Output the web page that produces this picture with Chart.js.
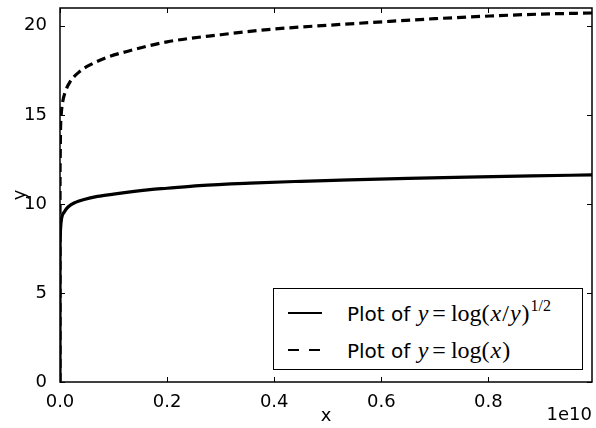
<!DOCTYPE html>
<html>
<head>
  <meta charset="UTF-8">
  <title>Plot of log curves</title>
  <script src="https://cdn.jsdelivr.net/npm/chart.js"></script>
  <style>
    body {
      margin: 0;
      background: #fff;
    }
    #wrap {
      position: relative;
      width: 596px;
      height: 428px;
    }
    #legend {
      position: absolute;
      left: 273px;
      top: 288px;
      width: 308px;
      height: 80px;
      border: 1px solid #000;
      background: #fff;
      font-family: "DejaVu Sans", sans-serif;
      font-size: 20px;
      color: #000;
    }
    .row {
      position: absolute;
      left: 0;
      height: 30px;
      line-height: 30px;
      white-space: nowrap;
    }
    .sample {
      position: absolute;
      left: 14px;
      top: 14px;
      width: 34px;
      border-top: 2px solid #000;
    }
    .sample.dash {
      border-top-style: none;
      height: 2px;
      background: repeating-linear-gradient(90deg, #000 0 11px, transparent 11px 21px);
    }
    .txt {
      position: absolute;
      left: 73px;
    }
    .m {
      font-family: "Liberation Serif", "DejaVu Serif", serif;
      font-size: 24px;
    }
    .m i { margin: 0 1px; }
    .m .eq { margin: 0 5px 0 3px; }
    .m sup { font-size: 16px; vertical-align: 10px; line-height: 0; margin-left: 1px; }
  </style>
</head>
<body>
  <div id="wrap">
    <canvas id="chart" width="596" height="428"></canvas>
    <div id="legend">
      <div class="row" style="top:9px"><div class="sample"></div><span class="txt">Plot of <span class="m"><i>y</i><span class="eq">=</span>log(<i>x</i>/<i>y</i>)<sup>1/2</sup></span></span></div>
      <div class="row" style="top:46px"><div class="sample dash"></div><span class="txt">Plot of <span class="m"><i>y</i><span class="eq">=</span>log(<i>x</i>)</span></span></div>
    </div>
  </div>

  <script>
    // x values in units of 1e10
    const solidX = [0, 0.00005, 0.0005, 0.001, 0.003, 0.008, 0.0155, 0.03, 0.045, 0.07, 0.1, 0.168, 0.2, 0.26, 0.355, 0.45, 0.54, 0.65, 0.76, 0.88, 0.9935];
    const solidY = [0, 6.8, 8.2, 8.6, 9.19, 9.55, 9.84, 10.1, 10.25, 10.42, 10.55, 10.8, 10.88, 11.03, 11.17, 11.27, 11.35, 11.43, 11.5, 11.57, 11.63];

    const dashX = [0, 0.00002, 0.0002, 0.001, 0.002, 0.0043, 0.01, 0.0187, 0.0374, 0.059, 0.09, 0.13, 0.2, 0.3, 0.4, 0.5, 0.616, 0.7, 0.803, 0.9, 0.9935];
    const dashY = [0, 9.5, 12.2, 14.2, 14.9, 15.6, 16.3, 16.85, 17.45, 17.85, 18.25, 18.6, 19.1, 19.5, 19.82, 20.03, 20.25, 20.4, 20.55, 20.66, 20.72];

    const xTicks = [0, 0.2, 0.4, 0.6, 0.8];
    const yTicks = [0, 5, 10, 15, 20];

    const pts = (xs, ys) => xs.map((x, i) => ({ x: x, y: ys[i] }));

    const frame = {
      id: 'frame',
      afterDraw(chart) {
        const c = chart.ctx, a = chart.chartArea;
        const xs = chart.scales.x, ys = chart.scales.y;
        c.save();
        c.strokeStyle = '#000';
        c.lineWidth = 1;
        c.beginPath();
        xTicks.forEach(v => {
          const p = Math.round(xs.getPixelForValue(v)) + 0.5;
          c.moveTo(p, a.bottom); c.lineTo(p, a.bottom - 5);
          c.moveTo(p, a.top); c.lineTo(p, a.top + 5);
        });
        yTicks.forEach(v => {
          const p = Math.round(ys.getPixelForValue(v)) + 0.5;
          c.moveTo(a.left, p); c.lineTo(a.left + 5, p);
          c.moveTo(a.right, p); c.lineTo(a.right - 5, p);
        });
        c.stroke();
        c.lineWidth = 1.5;
        c.strokeRect(a.left, a.top, a.right - a.left, a.bottom - a.top);
        c.fillStyle = '#000';
        c.font = '18px "DejaVu Sans"';
        c.textAlign = 'right';
        c.textBaseline = 'alphabetic';
        c.fillText('1e10', a.right, 420);
        c.restore();
      }
    };

    new Chart(document.getElementById('chart'), {
      type: 'line',
      data: {
        datasets: [
          {
            label: 'Plot of y=log(x/y)^(1/2)',
            data: pts(solidX, solidY),
            borderColor: '#000',
            borderWidth: 3.2,
            pointRadius: 0,
            cubicInterpolationMode: 'monotone',
            fill: false
          },
          {
            label: 'Plot of y=log(x)',
            data: pts(dashX, dashY),
            borderColor: '#000',
            borderWidth: 3.2,
            borderDash: [9, 5],
            pointRadius: 0,
            cubicInterpolationMode: 'monotone',
            fill: false
          }
        ]
      },
      options: {
        responsive: false,
        animation: false,
        layout: { padding: { top: 8, right: 4 } },
        plugins: {
          legend: { display: false },
          tooltip: { enabled: false }
        },
        scales: {
          x: {
            type: 'linear',
            min: 0,
            max: 0.9935,
            grid: { display: false },
            border: { display: false },
            afterFit: s => { s.height = 46; s.paddingRight = 0; s.paddingLeft = 0; },
            afterBuildTicks: s => { s.ticks = xTicks.map(v => ({ value: v })); },
            ticks: {
              padding: 2,
              color: '#000',
              font: { family: 'DejaVu Sans', size: 18 },
              callback: v => v.toFixed(1)
            },
            title: {
              display: true,
              text: 'x',
              color: '#000',
              font: { family: 'DejaVu Sans', size: 18 },
              padding: { top: 0, bottom: 1 }
            }
          },
          y: {
            min: 0,
            max: 21,
            grid: { display: false },
            border: { display: false },
            afterFit: s => { s.width = 60; s.paddingTop = 0; s.paddingBottom = 0; },
            afterBuildTicks: s => { s.ticks = yTicks.map(v => ({ value: v })); },
            ticks: {
              padding: 5,
              color: '#000',
              font: { family: 'DejaVu Sans', size: 18 }
            },
            title: {
              display: true,
              text: 'y',
              color: '#000',
              font: { family: 'DejaVu Sans', size: 18 },
              padding: { top: 10, bottom: 0 }
            }
          }
        }
      },
      plugins: [frame]
    });
  </script>
</body>
</html>
